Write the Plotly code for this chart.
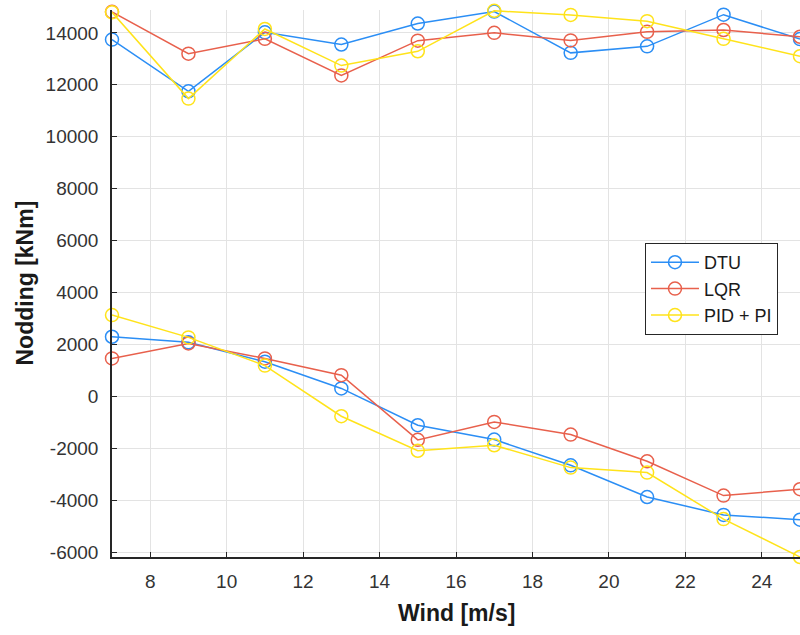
import plotly.graph_objects as go

wind = [7, 9, 11, 13, 15, 17, 19, 21, 23, 25]

dtu_upper = [13740, 11750, 14020, 13550, 14360, 14820, 13230, 13480, 14700, 13760]
lqr_upper = [14810, 13200, 13770, 12360, 13700, 14000, 13710, 14040, 14110, 13850]
pid_upper = [14790, 11470, 14150, 12740, 13290, 14850, 14690, 14450, 13770, 13100]

dtu_lower = [2300, 2085, 1340, 310, -1107, -1658, -2650, -3872, -4560, -4744]
lqr_lower = [1465, 2044, 1465, 821, -1670, -980, -1466, -2495, -3815, -3570]
pid_lower = [3135, 2275, 1190, -760, -2090, -1878, -2738, -2931, -4720, -6180]

names = ["DTU", "LQR", "PID + PI"]
colors = ["#2b8ef5", "#e8604c", "#ffe31a"]
uppers = [dtu_upper, lqr_upper, pid_upper]
lowers = [dtu_lower, lqr_lower, pid_lower]

x_ticks = [8, 10, 12, 14, 16, 18, 20, 22, 24]
y_ticks = [-6000, -4000, -2000, 0, 2000, 4000, 6000, 8000, 10000, 12000, 14000]

FONT = "Liberation Sans, Arial, Helvetica, sans-serif"

fig = go.Figure()
for name, col, up, lo in zip(names, colors, uppers, lowers):
    for vals, show in ((up, True), (lo, False)):
        fig.add_trace(go.Scatter(
            x=wind, y=vals, name=name, mode="lines+markers",
            legendgroup=name, showlegend=show,
            line=dict(color=col, width=1.5),
            marker=dict(symbol="circle-open", size=13, color=col, line=dict(width=1.5, color=col)),
            cliponaxis=False,
        ))

fig.update_layout(
    width=800, height=635,
    margin=dict(l=112, r=0, t=10, b=78),
    paper_bgcolor="white", plot_bgcolor="white",
    font=dict(family=FONT, size=19, color="#333333"),
    showlegend=True,
    legend=dict(
        x=0.7747, y=0.574, xanchor="left", yanchor="top",
        bgcolor="white", bordercolor="#262626", borderwidth=1,
        font=dict(family=FONT, size=18, color="#1a1a1a"),
        traceorder="grouped", tracegroupgap=0, itemwidth=48,
    ),
    xaxis=dict(
        range=[7, 25], tickvals=x_ticks, ticktext=[str(v) for v in x_ticks],
        showgrid=True, gridcolor="#e3e3e3", gridwidth=1,
        showline=True, linecolor="#262626", linewidth=1.5, mirror=False,
        ticks="inside", ticklen=5, tickcolor="#262626", tickwidth=1.2,
        zeroline=False, ticklabelstandoff=6,
    ),
    yaxis=dict(
        range=[-6180, 14880], tickvals=y_ticks, ticktext=[str(v) for v in y_ticks],
        showgrid=True, gridcolor="#e3e3e3", gridwidth=1,
        showline=True, linecolor="#262626", linewidth=1.5, mirror=False,
        ticks="inside", ticklen=5, tickcolor="#262626", tickwidth=1.2,
        zeroline=False, ticklabelstandoff=8,
    ),
    annotations=[
        dict(text="<b>Wind [m/s]</b>", xref="paper", yref="paper", x=0.5, y=-0.1024,
             xanchor="center", yanchor="middle", showarrow=False,
             font=dict(family=FONT, size=23, color="#1a1a1a")),
        dict(text="<b>Nodding [kNm]</b>", xref="paper", yref="paper", x=-0.1279, y=0.5,
             xanchor="center", yanchor="middle", showarrow=False, textangle=-90,
             font=dict(family=FONT, size=23, color="#1a1a1a")),
    ],
)

fig.write_html("out.html")
